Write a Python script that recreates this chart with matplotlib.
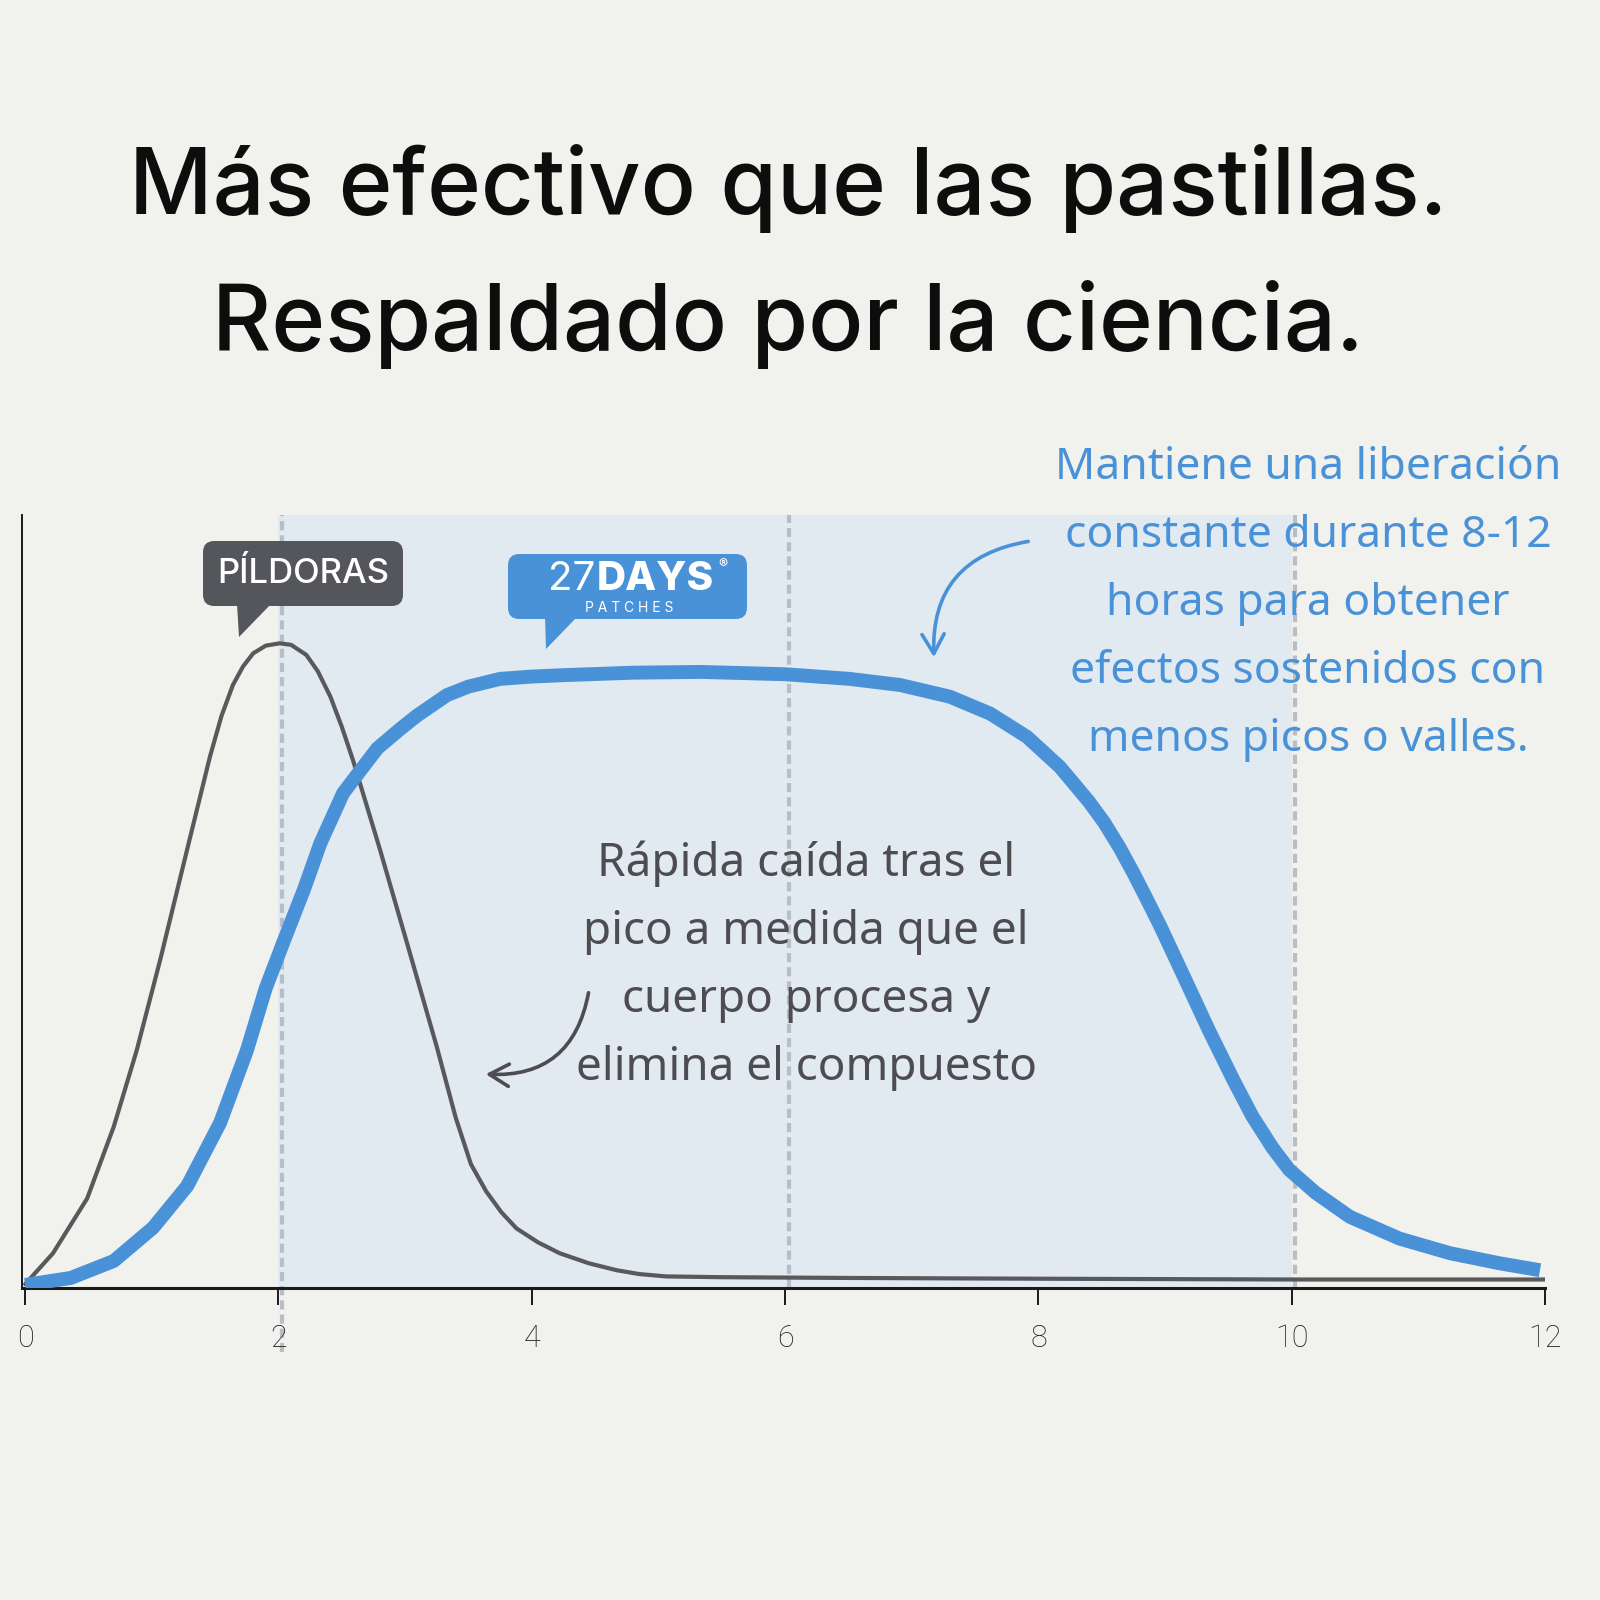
import matplotlib
matplotlib.use("Agg")
import matplotlib.pyplot as plt
from matplotlib.patches import FancyBboxPatch, Polygon, FancyArrowPatch

# ---------------- data ----------------
hours_ticks = [0, 2, 4, 6, 8, 10, 12]
tick_labels = ["0", "2", "4", "6", "8", "10", "12"]

pill_x = [0.0, 0.22, 0.49, 0.70, 0.88, 1.07, 1.28, 1.46, 1.55, 1.64, 1.72, 1.80, 1.90,
          2.01, 2.10, 2.22, 2.31, 2.41, 2.50, 2.59, 2.80, 3.01, 3.25, 3.40, 3.52, 3.64,
          3.76, 3.88, 4.05, 4.22, 4.45, 4.67, 4.85, 5.06, 5.49, 6.5, 8.0, 10.0, 12.0]
pill_y = [0.5, 4.5, 11.6, 20.9, 30.7, 42.7, 56.8, 68.8, 74.0, 78.0, 80.4, 82.1, 83.1,
          83.4, 83.2, 81.9, 79.8, 76.5, 72.6, 68.2, 56.8, 44.9, 31.2, 22.0, 16.0, 12.5,
          9.8, 7.7, 5.9, 4.5, 3.2, 2.3, 1.8, 1.5, 1.4, 1.3, 1.2, 1.1, 1.1]

patch_x = [0.0, 0.36, 0.70, 1.01, 1.28, 1.54, 1.75, 1.90, 2.04, 2.20, 2.33, 2.51,
           2.64, 2.78, 2.96, 3.09, 3.33, 3.50, 3.75, 4.0, 4.28, 4.8, 5.33, 6.0,
           6.51, 6.91, 7.30, 7.62, 7.91, 8.17, 8.40, 8.52, 8.64, 8.75, 8.85, 8.96,
           9.14, 9.35, 9.54, 9.69, 9.85, 9.98, 10.19, 10.46, 10.85, 11.25, 11.64,
           11.96]
patch_y = [0.4, 1.3, 3.5, 7.8, 13.2, 21.4, 30.7, 38.8, 44.8, 51.5, 57.5, 64.0,
           66.8, 69.8, 72.3, 74.0, 76.7, 77.8, 78.8, 79.1, 79.3, 79.6, 79.7, 79.4,
           78.8, 78.0, 76.5, 74.3, 71.3, 67.4, 62.9, 60.2, 57.0, 53.7, 50.5, 46.9,
           40.6, 33.2, 26.9, 22.2, 18.1, 15.3, 12.3, 9.2, 6.4, 4.5, 3.2, 2.3]

shade_range = (2, 10)
guide_hours = [2, 6, 10]

title_lines = ["Más efectivo que las pastillas.", "Respaldado por la ciencia."]
blue_note = ["Mantiene una liberación", "constante durante 8-12",
             "horas para obtener", "efectos sostenidos con", "menos picos o valles."]
gray_note = ["Rápida caída tras el", "pico a medida que el",
             "cuerpo procesa y", "elimina el compuesto"]
pill_label = "PÍLDORAS"

# ---------------- style ----------------
BG = "#f1f2ed"
SHADE = "#e1e9f1"
BLUE = "#4a92d8"
GRAY = "#58595d"
GUIDE = "#b7bec8"
TXT_GRAY = "#4c4c51"

W = H = 1600
fig = plt.figure(figsize=(16, 16), dpi=100, facecolor=BG)


def F(x, y):
    return (x / W, 1 - y / H)


ax_left, ax_right = 22, 1545
ax_bottom, ax_top = 1288, 515
ax = fig.add_axes([ax_left / W, (H - ax_bottom) / H, (ax_right - ax_left) / W,
                   (ax_bottom - ax_top) / H])
ax.set_facecolor(BG)
ax.set_xlim(-0.025, 12.0)
ax.set_ylim(0, 100)

ax.axvspan(shade_range[0], shade_range[1], ymin=0, ymax=1, color=SHADE, lw=0, zorder=0)

for h in guide_hours:
    lo = -8.3 if h == 2 else 0
    ax.plot([h + 0.03, h + 0.03], [lo, 100], color=GUIDE, lw=3, ls=(0, (2.2, 1.2)),
            zorder=1, clip_on=False)

ax.plot(pill_x, pill_y, color=GRAY, lw=3.0, solid_capstyle="round",
        solid_joinstyle="round", zorder=3)
ax.plot(patch_x, patch_y, color=BLUE, lw=10, solid_capstyle="butt",
        solid_joinstyle="round", zorder=4)

for s in ["top", "right"]:
    ax.spines[s].set_visible(False)
ax.spines["bottom"].set_linewidth(2.2)
ax.spines["bottom"].set_color("#1a1a1a")
ax.spines["left"].set_linewidth(1.4)
ax.spines["left"].set_color("#1a1a1a")
ax.set_yticks([])
ax.set_xticks(hours_ticks)
ax.set_xticklabels(tick_labels, fontsize=22, color="#1e1e1e", family="Roboto",
                   fontweight="light")
ax.tick_params(axis="x", length=12, width=1.4, color="#1a1a1a", pad=14)

# ---------------- title ----------------
for txt, base in zip(title_lines, [214, 350]):
    fig.text(*F(W / 2 - 12, base), txt, ha="center", va="baseline",
             fontsize=66, family="Inter", fontweight="medium", color="#0d0d0d")

# ---------------- annotations ----------------
for i, line in enumerate(blue_note):
    fig.text(*F(1308, 479 + 68 * i), line, ha="center", va="baseline",
             fontsize=32, family="Noto Sans", fontweight="semibold", color=BLUE)

for i, line in enumerate(gray_note):
    fig.text(*F(806, 876 + 68 * i), line, ha="center", va="baseline",
             fontsize=33, family="Noto Sans", fontweight="semibold", color=TXT_GRAY)

fig.patches.append(FancyArrowPatch(
    posA=(1031 / W, 1 - 541 / H), posB=(934 / W, 1 - 660 / H),
    transform=fig.transFigure, connectionstyle="arc3,rad=0.45",
    arrowstyle="->,head_length=14,head_width=8", color=BLUE, lw=2.6,
    mutation_scale=1))
fig.patches.append(FancyArrowPatch(
    posA=(589 / W, 1 - 990 / H), posB=(483 / W, 1 - 1074 / H),
    transform=fig.transFigure, connectionstyle="arc3,rad=-0.45",
    arrowstyle="->,head_length=14,head_width=8", color=TXT_GRAY, lw=2.6,
    mutation_scale=1))


# ---------------- badges ----------------
def badge(x0, y0, x1, y1, tail, color):
    bx, by = F(x0, y1)
    fig.patches.append(FancyBboxPatch(
        (bx, by), (x1 - x0) / W, (y1 - y0) / H, transform=fig.transFigure,
        boxstyle="round,pad=0,rounding_size=0.007", fc=color, ec="none", zorder=5))
    fig.patches.append(Polygon([F(*p) for p in tail], closed=True,
                               transform=fig.transFigure, fc=color, ec="none",
                               zorder=5))


badge(203, 541, 403, 606, [(237, 604), (271, 604), (239, 637)], "#55565b")
fig.text(*F(303, 574), pill_label, ha="center", va="center", fontsize=25,
         family="Inter", fontweight="medium", color="white", zorder=6)

badge(508, 554, 747, 619, [(545, 617), (577, 617), (546, 649)], BLUE)
fig.text(*F(595, 590), "27", ha="right", va="baseline", fontsize=29,
         family="Inter", fontweight="normal", color="white", zorder=6)
fig.text(*F(597, 590), "DAYS", ha="left", va="baseline", fontsize=29,
         family="Inter", fontweight="heavy", color="white", zorder=6)
fig.text(*F(718, 568), "®", ha="left", va="baseline", fontsize=10,
         family="Inter", fontweight="bold", color="white", zorder=6)
fig.text(*F(629, 612), "P A T C H E S", ha="center", va="baseline", fontsize=10,
         family="Inter", fontweight="normal", color="white", zorder=6)

fig.savefig("out.png", dpi=100, facecolor=BG)
